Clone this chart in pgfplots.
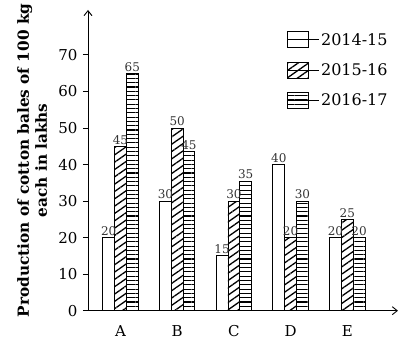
\documentclass[border=0pt]{standalone}
\usepackage{fontspec}
\setmainfont{DejaVu Serif}
\usepackage{pgfplots}
\pgfplotsset{compat=1.18}
\usetikzlibrary{patterns.meta,arrows.meta}
\begin{document}
\begin{tikzpicture}
\useasboundingbox (-88pt,-34.3pt) rectangle (320pt,310.7pt);
\begin{axis}[
  at={(0pt,0pt)}, anchor=south west,
  scale only axis, width=310pt, height=300.7pt,
  xmin=0.427, xmax=5.894, ymin=0, ymax=82.3,
  axis x line=bottom, axis y line=left,
  axis line style={line width=0.9pt, -{Straight Barb[length=5pt,width=8pt]}},
  ybar=0pt, bar width=11.8pt,
  /pgf/number format/assume math mode=true,
  xtick={1,2,3,4,5}, xticklabels={A,B,C,D,E},
  ytick={0,10,...,70},
  tick align=outside, major tick length=5pt,
  xtick style={draw=none},
  ytick style={line width=0.9pt, black},
  tick label style={font=\fontsize{15}{18}\selectfont},
  yticklabel style={xshift=-2pt},
  xticklabel style={yshift=-6pt},
  ylabel={Production of cotton bales of 100 kg\\each in lakhs},
  ylabel style={at={(axis description cs:-0.18,0.5)}, anchor=center, align=center, font=\bfseries\fontsize{15.3}{18}\selectfont},
  nodes near coords,
  nodes near coords style={font=\fontsize{12}{13}\selectfont, text=black!80, inner sep=1.5pt},
  legend image code/.code={\draw[#1,line width=0.9pt] (0pt,-8pt) rectangle (21pt,8pt); \path (0pt,0pt) -- (31pt,0pt);},
  legend cell align=left,
  legend style={at={(rel axis cs:0.642,0.93)}, anchor=north west, draw=none, fill=none, font=\fontsize{16}{18}\selectfont, row sep=13pt, inner sep=0pt},
]
\addplot[draw=black, line width=0.9pt, fill=white] coordinates {(1,20) (2,30) (3,15) (4,40) (5,20)};
\addplot[draw=black, line width=0.9pt, pattern={Lines[angle=35,distance=6pt,line width=1.3pt]}] coordinates {(1,45) (2,50) (3,30) (4,20) (5,25)};
\addplot[draw=black, line width=0.9pt, pattern={Lines[angle=0,distance=4.3pt,line width=1.1pt]}, point meta=explicit] coordinates {(1,65) [65] (2,43.5) [45] (3,35.5) [35] (4,30) [30] (5,20) [20]};
\legend{2014-15,2015-16,2016-17}
\end{axis}
\end{tikzpicture}
\end{document}
